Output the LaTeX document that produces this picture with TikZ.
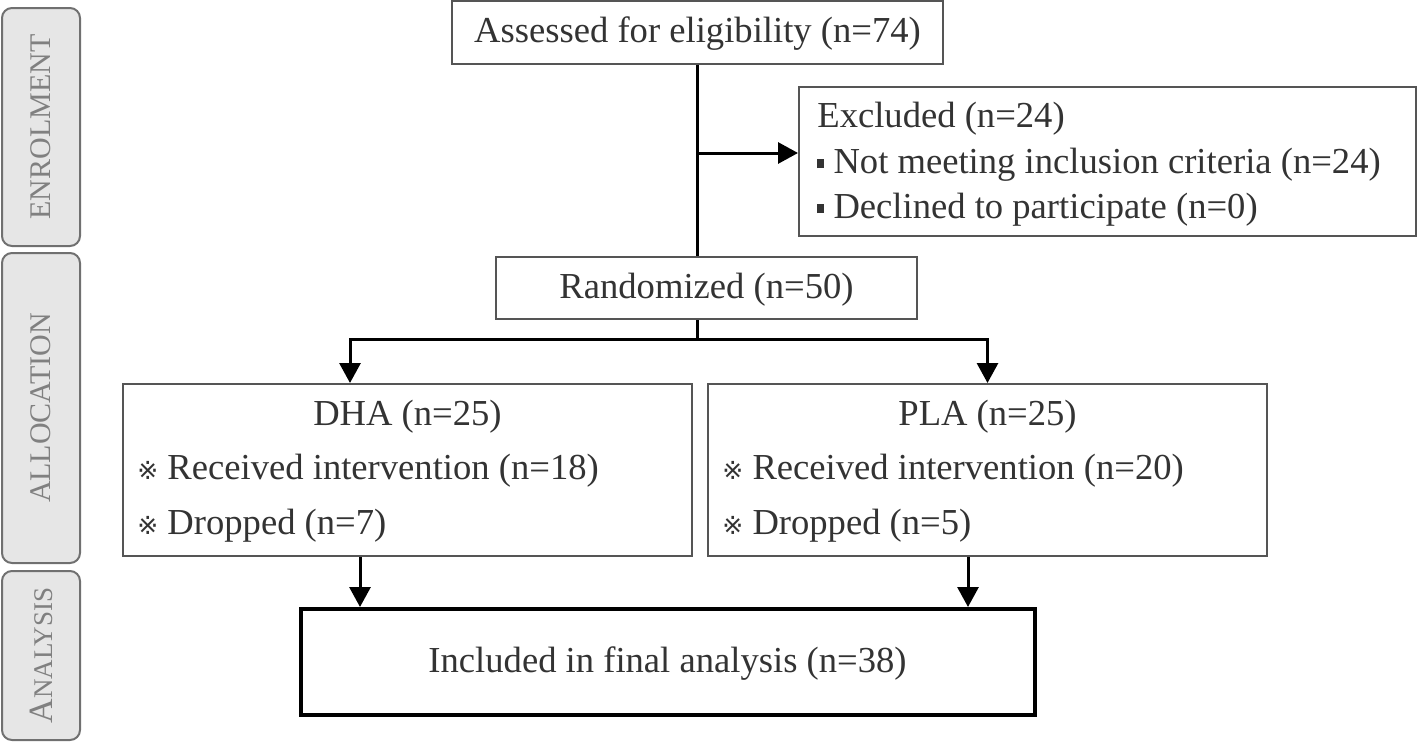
\documentclass[tikz,border=0pt]{standalone}
\usepackage{fontspec}
\setmainfont{Liberation Serif}
\newfontfamily\symfont{DejaVu Sans}
\usetikzlibrary{arrows.meta}

\definecolor{txtgray}{HTML}{333333}
\definecolor{boxgray}{HTML}{555555}
\definecolor{tabfill}{HTML}{E6E6E6}
\definecolor{tabline}{HTML}{707070}
\definecolor{tabtext}{HTML}{808080}

\tikzset{every picture/.style={x=0.5pt,y=-0.5pt},
  flowbox/.style={draw=boxgray,line width=1pt,fill=white,inner sep=0pt},
  finalbox/.style={draw=black,line width=2pt,fill=white,inner sep=0pt},
  boxtext/.style={inner sep=0pt,text=txtgray,text depth=2.4pt,font=\fontsize{18.3}{22}\selectfont},
  stagetab/.style={draw=tabline,fill=tabfill,line width=1pt,rounded corners=5pt,rotate=90,
    minimum height=39pt,inner sep=0pt,text=tabtext,font=\fontsize{15}{15}\selectfont},
  flowline/.style={line width=1.5pt},
  flowarrow/.style={line width=1.5pt,-{Triangle[length=10pt,width=10.5pt]}}}

\newcommand{\refmark}{{\symfont\fontsize{12.5}{12.5}\selectfont ※}\ }
\newcommand{\sqmark}{\rule[2.5pt]{3.5pt}{4.5pt}\ }

\begin{document}
\begin{tikzpicture}
\useasboundingbox (0,0) rectangle (1418,744);
% stages
\node[stagetab,minimum width=119pt] (enrol) at (41,127) {ENROLMENT};
\node[stagetab,minimum width=155pt] (alloc) at (41,408) {ALLOCATION};
\node[stagetab,minimum width=84.5pt,font=\fontsize{13.5}{13.5}\selectfont] (analy) at (41,655.5) {{\fontsize{17}{17}\selectfont A}NALYSIS};
% boxes
\node[flowbox,boxtext,minimum width=245.5pt,minimum height=31.5pt] (assess) at (697.5,32) {Assessed for eligibility (n=74)};
\node[flowbox,minimum width=308.5pt,minimum height=74.5pt] (excl) at (1107.5,161.5) {};
\node[boxtext,anchor=base west] (exclhead) at (817,127) {Excluded (n=24)};
\node[boxtext,anchor=base west] (exclone) at (817,173) {\sqmark Not meeting inclusion criteria (n=24)};
\node[boxtext,anchor=base west] (excltwo) at (817,218) {\sqmark Declined to participate (n=0)};
\node[flowbox,boxtext,minimum width=210.5pt,minimum height=31pt] (rand) at (706.5,288) {Randomized (n=50)};
\node[flowbox,minimum width=284.5pt,minimum height=86pt] (dha) at (407.5,470) {};
\node[boxtext,anchor=base] (dhahead) at (407.5,425) {DHA (n=25)};
\node[boxtext,anchor=base west] (dhaone) at (137,479) {\refmark Received intervention (n=18)};
\node[boxtext,anchor=base west] (dhatwo) at (137,534) {\refmark Dropped (n=7)};
\node[flowbox,minimum width=279.5pt,minimum height=86pt] (pla) at (987.5,470) {};
\node[boxtext,anchor=base] (plahead) at (987.5,425) {PLA (n=25)};
\node[boxtext,anchor=base west] (plaone) at (722,479) {\refmark Received intervention (n=20)};
\node[boxtext,anchor=base west] (platwo) at (722,534) {\refmark Dropped (n=5)};
\node[finalbox,boxtext,minimum width=367pt,minimum height=53pt] (final) at (667.5,662) {Included in final analysis (n=38)};
% connectors
\coordinate (split) at (697.5,153);
\coordinate (fork) at (697.5,339);
\coordinate (forkleft) at (350,339);
\coordinate (leftdrop) at (360,0);
\coordinate (rightdrop) at (968,0);
\draw[flowline] (assess.south) -- (assess.south |- rand.north);
\draw[flowarrow] (split) -- (split -| excl.west);
\draw[flowline] (rand.south -| fork) -- (fork);
\draw[flowarrow] (fork) -| (dha.north -| forkleft);
\draw[flowarrow] (fork) -| (pla.north);
\draw[flowarrow] (dha.south -| leftdrop) -- (final.north -| leftdrop);
\draw[flowarrow] (pla.south -| rightdrop) -- (final.north -| rightdrop);
\end{tikzpicture}
\end{document}
